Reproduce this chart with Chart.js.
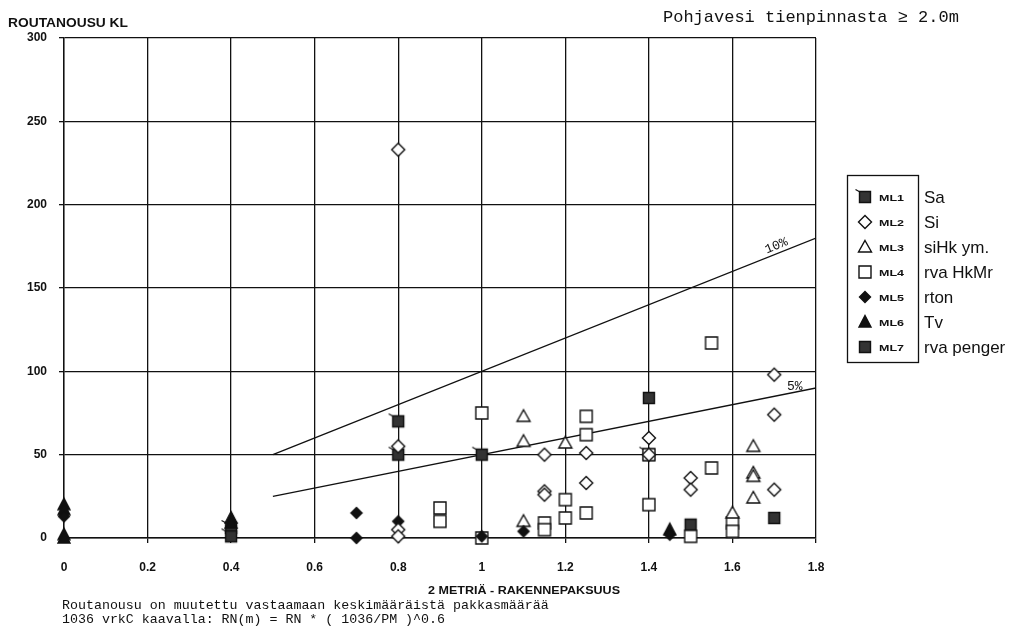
<!DOCTYPE html>
<html>
<head>
<meta charset="utf-8">
<script src="https://cdn.jsdelivr.net/npm/chart.js@4"></script>
<style>
  html, body { margin: 0; padding: 0; background: #fff; }
  #wrap { width: 1015px; height: 638px; }
</style>
</head>
<body>
<div id="wrap"><canvas id="chart" width="1015" height="638"></canvas></div>
<script>
// x = rakennepaksuus (m), y = routanousu
const ml1 = [[0.4, 6], [0.4, 1], [0.8, 70], [0.8, 50], [1.0, 50], [1.4, 50]];
const ml2 = [[0.8, 233], [0.8, 55], [0.8, 5], [0.8, 1], [1.15, 50], [1.15, 28], [1.15, 26],
             [1.25, 51], [1.25, 33], [1.4, 60], [1.4, 50], [1.5, 36], [1.5, 29],
             [1.7, 98], [1.7, 74], [1.7, 29]];
const ml3 = [[1.1, 73], [1.1, 58], [1.1, 10], [1.2, 57], [1.6, 15], [1.65, 55],
             [1.65, 39], [1.65, 37], [1.65, 24]];
const ml4 = [[0.9, 18], [0.9, 10], [1.0, 75], [1.0, 0], [1.15, 9], [1.15, 5], [1.2, 23],
             [1.2, 12], [1.25, 73], [1.25, 62], [1.25, 15], [1.4, 50], [1.4, 20], [1.5, 1],
             [1.55, 117], [1.55, 42], [1.6, 9], [1.6, 4]];
const ml5 = [[0, 13], [0.7, 15], [0.7, 0], [0.8, 10], [1.0, 1], [1.1, 4], [1.45, 2]];
const ml6 = [[0, 20], [0, 17], [0, 2], [0, 0], [0.4, 12], [0.4, 9], [1.45, 5]];
const ml7 = [[1.4, 84], [1.5, 8], [1.7, 12]];

// 10 % and 5 % reference lines
const line10X = [0.5, 1.8];
const line10Y = [50, 180];
const line5X = [0.5, 1.8];
const line5Y = [25, 90];

const seriesCodes = ['ML1', 'ML2', 'ML3', 'ML4', 'ML5', 'ML6', 'ML7'];
const seriesNames = ['Sa', 'Si', 'siHk ym.', 'rva HkMr', 'rton', 'Tv', 'rva penger'];

const xTicks = [0, 0.2, 0.4, 0.6, 0.8, 1, 1.2, 1.4, 1.6, 1.8];
const yTicks = [0, 50, 100, 150, 200, 250, 300];

const INK = '#111';

// marker sprites, used both for the points and the legend
function makeMarker(kind) {
  const c = document.createElement('canvas');
  c.width = 22; c.height = 22;
  const g = c.getContext('2d');
  g.translate(11, 11);
  g.lineWidth = 1.4;
  g.strokeStyle = INK;
  g.fillStyle = '#fff';
  g.beginPath();
  switch (kind) {
    case 'ML1':
    case 'ML7':
      g.fillStyle = '#333';
      g.rect(-5.5, -5.5, 11, 11);
      g.fill(); g.stroke();
      if (kind === 'ML1') {
        g.beginPath();
        g.moveTo(-9.5, -7.5); g.lineTo(-5, -5);
        g.lineWidth = 1.2; g.stroke();
      }
      break;
    case 'ML2':
      g.moveTo(0, -6.5); g.lineTo(6.5, 0); g.lineTo(0, 6.5); g.lineTo(-6.5, 0); g.closePath();
      g.fill(); g.stroke();
      break;
    case 'ML3':
      g.moveTo(0, -6.5); g.lineTo(6.5, 5); g.lineTo(-6.5, 5); g.closePath();
      g.fill(); g.stroke();
      break;
    case 'ML4':
      g.rect(-6, -6, 12, 12);
      g.fill(); g.stroke();
      break;
    case 'ML5':
      g.fillStyle = INK;
      g.moveTo(0, -5.5); g.lineTo(5.5, 0); g.lineTo(0, 5.5); g.lineTo(-5.5, 0); g.closePath();
      g.fill(); g.stroke();
      break;
    case 'ML6':
      g.fillStyle = INK;
      g.moveTo(0, -6.5); g.lineTo(6, 5); g.lineTo(-6, 5); g.closePath();
      g.fill(); g.stroke();
      break;
  }
  return c;
}

const markers = {};
seriesCodes.forEach(k => { markers[k] = makeMarker(k); });

const toPoints = arr => arr.map(([x, y]) => ({x, y}));
const toLine = (xs, ys) => xs.map((x, i) => ({x, y: ys[i]}));

const seriesData = [ml1, ml2, ml3, ml4, ml5, ml6, ml7];
// lower order is drawn on top: small filled diamonds and hollow diamonds above the squares
const drawOrder = [3, 1, 2, 2, 1, 2, 3];

const datasets = seriesCodes.map((code, i) => ({
  label: code,
  data: toPoints(seriesData[i]),
  pointStyle: markers[code],
  pointRadius: 7,
  order: drawOrder[i],
  clip: false
}));

datasets.push(
  { label: '10%', data: toLine(line10X, line10Y), showLine: true, pointRadius: 0,
    borderColor: INK, borderWidth: 1.3, order: 10 },
  { label: '5%', data: toLine(line5X, line5Y), showLine: true, pointRadius: 0,
    borderColor: INK, borderWidth: 1.3, order: 10 }
);

// draw text at a given width by squeezing or stretching horizontally
function fitText(ctx, str, x, y, w) {
  const m = ctx.measureText(str).width;
  ctx.save();
  ctx.translate(x, y);
  ctx.scale(w / m, 1);
  ctx.fillText(str, 0, 0);
  ctx.restore();
}

const annotations = {
  id: 'annotations',
  afterDraw(chart) {
    const ctx = chart.ctx;
    const xs = chart.scales.x, ys = chart.scales.y;
    ctx.save();
    ctx.fillStyle = INK;
    ctx.strokeStyle = INK;
    ctx.textBaseline = 'alphabetic';
    ctx.textAlign = 'left';

    ctx.font = 'bold 13px "Liberation Sans", Arial, sans-serif';
    fitText(ctx, 'ROUTANOUSU KL', 8, 27, 120);

    ctx.font = '17px "Liberation Mono", "DejaVu Sans Mono", monospace';
    ctx.fillText('Pohjavesi tienpinnasta \u2265 2.0m', 663, 22);

    ctx.font = 'bold 10px "Liberation Sans", Arial, sans-serif';
    fitText(ctx, '2 METRIÄ - RAKENNEPAKSUUS', 428, 594, 192);

    ctx.font = '13.3px "Liberation Mono", "DejaVu Sans Mono", monospace';
    ctx.fillText('Routanousu on muutettu vastaamaan keskimääräistä pakkasmäärää', 62, 609);
    ctx.fillText('1036 vrkC kaavalla: RN(m) = RN * ( 1036/PM )^0.6', 62, 623);

    // line labels
    const x0 = xs.getPixelForValue(line10X[0]), y0 = ys.getPixelForValue(line10Y[0]);
    const x1 = xs.getPixelForValue(line10X[1]), y1 = ys.getPixelForValue(line10Y[1]);
    const ang = Math.atan2(y1 - y0, x1 - x0);
    const lx = 779, ly = y0 + (lx - x0) * Math.tan(ang);
    ctx.font = '13px "Liberation Mono", "DejaVu Sans Mono", monospace';
    ctx.save();
    ctx.translate(lx, ly);
    ctx.rotate(ang);
    ctx.textAlign = 'center';
    ctx.fillText('10%', 0, -4);
    ctx.restore();
    ctx.fillText('5%', 787, 390);

    // legend
    const bx = 847.5, by = 175.5, bw = 71, bh = 187;
    ctx.lineWidth = 1.3;
    ctx.strokeRect(bx, by, bw, bh);
    seriesCodes.forEach((code, i) => {
      const ry = 197 + i * 25;
      ctx.drawImage(markers[code], 865 - 11, ry - 11);
      ctx.font = 'bold 9px "Liberation Sans", Arial, sans-serif';
      fitText(ctx, code, 879, ry + 3.5, 25);
      ctx.font = '17px "Liberation Sans", Arial, sans-serif';
      ctx.fillText(seriesNames[i], 924, ry + 6);
    });
    ctx.restore();
  }
};

const tickFont = {family: '"Liberation Sans", Arial, sans-serif', size: 12, weight: 'bold'};

new Chart(document.getElementById('chart'), {
  type: 'scatter',
  data: {datasets},
  options: {
    responsive: false,
    animation: false,
    events: [],
    layout: {padding: {left: 0, right: 199, top: 38, bottom: 0}},
    plugins: {legend: {display: false}, tooltip: {enabled: false}},
    scales: {
      x: {
        type: 'linear', min: 0, max: 1.8,
        afterBuildTicks: s => { s.ticks = xTicks.map(v => ({value: v})); },
        afterFit: s => { s.height = 100; },
        ticks: {color: INK, font: tickFont, padding: 17, maxRotation: 0,
                callback: v => String(v)},
        grid: {color: INK, lineWidth: 1.3, tickLength: 5},
        border: {color: INK, width: 1.4}
      },
      y: {
        type: 'linear', min: 0, max: 300,
        afterBuildTicks: s => { s.ticks = yTicks.map(v => ({value: v})); },
        afterFit: s => { s.width = 64; },
        ticks: {color: INK, font: tickFont, padding: 12, callback: v => String(v)},
        grid: {color: INK, lineWidth: 1.3, tickLength: 5},
        border: {color: INK, width: 1.4}
      }
    }
  },
  plugins: [annotations]
});
</script>
</body>
</html>
